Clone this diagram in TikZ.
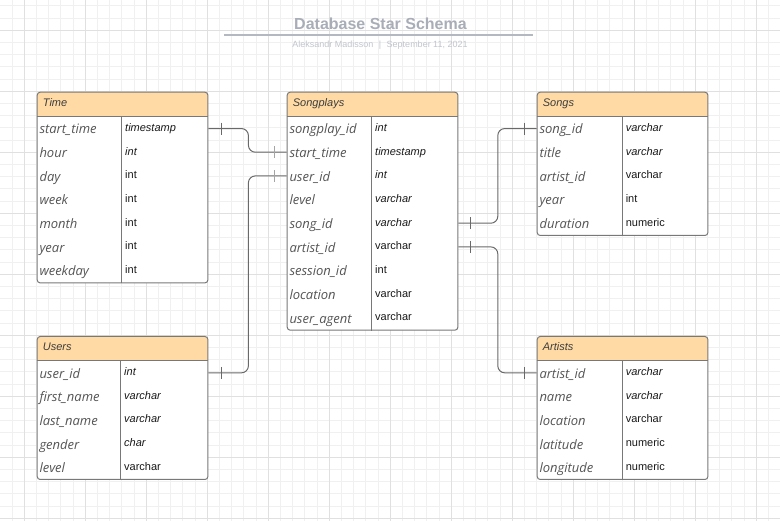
\documentclass[tikz,border=0pt]{standalone}
\usepackage{fontspec}
\setmainfont{Liberation Sans}
\newfontfamily\fieldfont{Open Sans}
\usetikzlibrary{calc}

\definecolor{minorgrid}{RGB}{240,240,240}
\definecolor{majorgrid}{RGB}{224,224,224}
\definecolor{headfill}{RGB}{255,218,164}
\definecolor{tblgray}{RGB}{120,120,120}
\definecolor{linkgray}{RGB}{105,105,105}
\definecolor{tickgray}{RGB}{165,165,165}
\definecolor{fieldtext}{RGB}{85,85,85}
\definecolor{typetext}{RGB}{25,25,25}
\definecolor{headtext}{RGB}{60,60,60}
\definecolor{titlegray}{RGB}{168,173,183}
\definecolor{rulegray}{RGB}{180,184,192}
\definecolor{subgray}{RGB}{192,196,204}

\begin{document}
\begin{tikzpicture}[x=1pt, y=-1pt,
  table/.style={draw=tblgray, line width=1pt, rounded corners=3pt, fill=white,
    minimum width=170.7pt, inner sep=0pt, anchor=north west,
    path picture={\fill[headfill, sharp corners] (path picture bounding box.north west)
      rectangle ([yshift=-25pt]path picture bounding box.north east);}},
  head/.style={anchor=west, inner sep=0pt, text height=8pt, text depth=3.4pt,
    font=\fontsize{11}{13}\selectfont\itshape, text=headtext},
  field/.style={anchor=west, inner sep=0pt, text height=12pt, text depth=1.4pt,
    font=\fieldfont\fontsize{13}{15}\selectfont\itshape, text=fieldtext},
  type/.style={anchor=west, inner sep=0pt, text height=8pt, text depth=2.4pt,
    font=\fontsize{11}{13}\selectfont, text=typetext},
  tblline/.style={draw=tblgray, line width=1pt},
  link/.style={draw=linkgray, line width=1pt, rounded corners=7pt},
  tick/.style={draw=linkgray, line width=1pt},
  lighttick/.style={draw=tickgray, line width=1pt},
  ]
  \useasboundingbox (0,0) rectangle (780,521);

  % grid
  \foreach \k in {-1,...,63}
    \draw[minorgrid, line width=1pt] ({24.3+12.2*\k},0) -- ({24.3+12.2*\k},521);
  \foreach \k in {-2,...,40}
    \draw[minorgrid, line width=1pt] (0,{30.3+12.2*\k}) -- (780,{30.3+12.2*\k});
  \foreach \k in {0,...,12}
    \draw[majorgrid, line width=1pt] ({24.3+61*\k},0) -- ({24.3+61*\k},521);
  \foreach \k in {0,...,8}
    \draw[majorgrid, line width=1pt] (0,{30.3+61*\k}) -- (780,{30.3+61*\k});

  % title
  \node[anchor=base, inner sep=0pt, font=\fontsize{16}{18}\selectfont\bfseries, text=titlegray]
    (title) at (380.5,30) {Database Star Schema};
  \draw[rulegray, line width=1.6pt] (224,35) -- (533,35);
  \node[anchor=base, inner sep=0pt, font=\fontsize{9}{11}\selectfont, text=subgray]
    (byline) at (380,48) {Aleksandr Madisson\hspace{5.5pt}|\hspace{5.5pt}September 11, 2021};

  % Time
  \node[table, minimum height=190.7pt] (time) at (36.7,91.7) {};
  \node[head] (time-h) at ($(time.north west)+(6,12.5)$) {Time};
  \draw[tblline] ([yshift=-25pt]time.north west) -- ([yshift=-25pt]time.north east);
  \draw[tblline] ([xshift=85pt, yshift=-25pt]time.north west) -- ([xshift=85pt]time.south west);
  \foreach \f/\t [count=\i] in {start\_time/\textit{timestamp}, hour/\textit{int}, day/int,
      week/int, month/int, year/int, weekday/int}
  {
    \node[field] (time-\i) at ($(time.north west)+(2.6,{13.17+23.67*\i})$) {\f};
    \node[type] (time-\i-t) at ($(time.north west)+(88.3,{13.17+23.67*\i})$) {\t};
  }

  % Songplays
  \node[table, minimum height=238pt] (songplays) at (286.7,91.7) {};
  \node[head] (songplays-h) at ($(songplays.north west)+(6,12.5)$) {Songplays};
  \draw[tblline] ([yshift=-25pt]songplays.north west) -- ([yshift=-25pt]songplays.north east);
  \draw[tblline] ([xshift=85pt, yshift=-25pt]songplays.north west) -- ([xshift=85pt]songplays.south west);
  \foreach \f/\t [count=\i] in {songplay\_id/\textit{int}, start\_time/\textit{timestamp},
      user\_id/\textit{int}, level/\textit{varchar}, song\_id/\textit{varchar}, artist\_id/varchar,
      session\_id/int, location/varchar, user\_agent/varchar}
  {
    \node[field] (songplays-\i) at ($(songplays.north west)+(2.6,{13.17+23.67*\i})$) {\f};
    \node[type] (songplays-\i-t) at ($(songplays.north west)+(88.3,{13.17+23.67*\i})$) {\t};
  }

  % Songs
  \node[table, minimum height=143.3pt] (songs) at (536.7,91.7) {};
  \node[head] (songs-h) at ($(songs.north west)+(6,12.5)$) {Songs};
  \draw[tblline] ([yshift=-25pt]songs.north west) -- ([yshift=-25pt]songs.north east);
  \draw[tblline] ([xshift=85.6pt, yshift=-25pt]songs.north west) -- ([xshift=85.6pt]songs.south west);
  \foreach \f/\t [count=\i] in {song\_id/\textit{varchar}, title/\textit{varchar}, artist\_id/varchar,
      year/int, duration/numeric}
  {
    \node[field] (songs-\i) at ($(songs.north west)+(2.6,{13.17+23.67*\i})$) {\f};
    \node[type] (songs-\i-t) at ($(songs.north west)+(88.9,{13.17+23.67*\i})$) {\t};
  }

  % Users
  \node[table, minimum height=143pt] (users) at (36.7,336) {};
  \node[head] (users-h) at ($(users.north west)+(6,12.5)$) {Users};
  \draw[tblline] ([yshift=-25pt]users.north west) -- ([yshift=-25pt]users.north east);
  \draw[tblline] ([xshift=84pt, yshift=-25pt]users.north west) -- ([xshift=84pt]users.south west);
  \foreach \f/\t [count=\i] in {user\_id/\textit{int}, first\_name/\textit{varchar},
      last\_name/\textit{varchar}, gender/\textit{char}, level/varchar}
  {
    \node[field] (users-\i) at ($(users.north west)+(2.6,{13.17+23.67*\i})$) {\f};
    \node[type] (users-\i-t) at ($(users.north west)+(87.3,{13.17+23.67*\i})$) {\t};
  }

  % Artists
  \node[table, minimum height=143pt] (artists) at (536.7,336) {};
  \node[head] (artists-h) at ($(artists.north west)+(6,12.5)$) {Artists};
  \draw[tblline] ([yshift=-25pt]artists.north west) -- ([yshift=-25pt]artists.north east);
  \draw[tblline] ([xshift=85.6pt, yshift=-25pt]artists.north west) -- ([xshift=85.6pt]artists.south west);
  \foreach \f/\t [count=\i] in {artist\_id/\textit{varchar}, name/\textit{varchar}, location/varchar,
      latitude/numeric, longitude/numeric}
  {
    \node[field] (artists-\i) at ($(artists.north west)+(2.6,{13.17+23.67*\i})$) {\f};
    \node[type] (artists-\i-t) at ($(artists.north west)+(88.9,{13.17+23.67*\i})$) {\t};
  }

  % links
  \draw[link] (time.east |- time-1) -- ++(40,0) |- (songplays.west |- songplays-2);
  \draw[link] (users.east |- users-1) -- ++(40,0) |- (songplays.west |- songplays-3);
  \draw[link] (songplays.east |- songplays-5) -- ++(39.4,0) |- (songs.west |- songs-1);
  \draw[link] (songplays.east |- songplays-6) -- ++(39.4,0) |- (artists.west |- artists-1);

  % ticks
  \draw[tick] ([xshift=12.6pt]time.east |- time-1) ++(0,-6) -- ++(0,12);
  \draw[tick] ([xshift=12.6pt]users.east |- users-1) ++(0,-6) -- ++(0,12);
  \draw[lighttick] ([xshift=-12.6pt]songplays.west |- songplays-2) ++(0,-6) -- ++(0,12);
  \draw[lighttick] ([xshift=-12.6pt]songplays.west |- songplays-3) ++(0,-6) -- ++(0,12);
  \draw[tick] ([xshift=12pt]songplays.east |- songplays-5) ++(0,-6) -- ++(0,12);
  \draw[tick] ([xshift=12pt]songplays.east |- songplays-6) ++(0,-6) -- ++(0,12);
  \draw[tick] ([xshift=-12.4pt]songs.west |- songs-1) ++(0,-6) -- ++(0,12);
  \draw[tick] ([xshift=-12.4pt]artists.west |- artists-1) ++(0,-6) -- ++(0,12);
\end{tikzpicture}
\end{document}
